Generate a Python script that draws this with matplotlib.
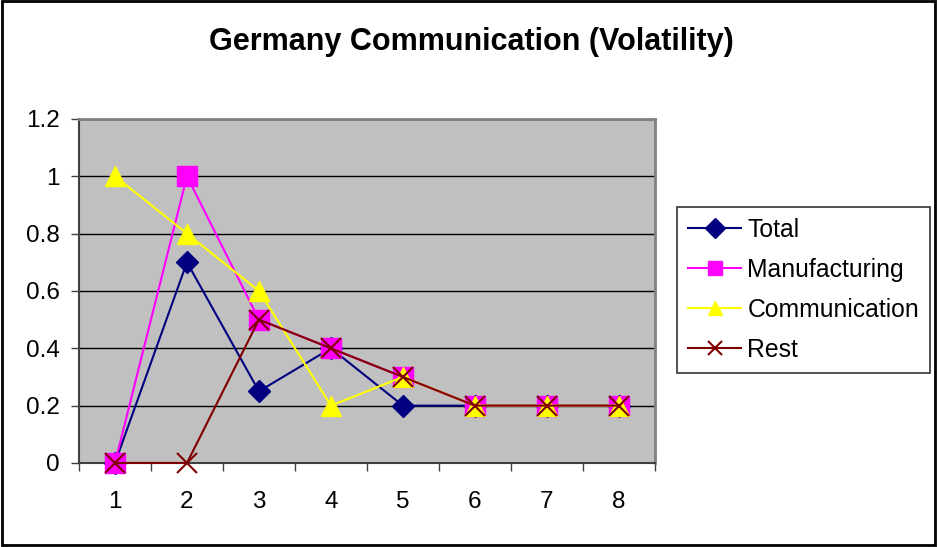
import matplotlib
matplotlib.use("Agg")
import matplotlib.pyplot as plt
from matplotlib.patches import Rectangle

plt.rcParams["font.family"] = ["Liberation Sans", "DejaVu Sans"]

# Donnees
periods = [1, 2, 3, 4, 5, 6, 7, 8]
total = [0, 0.7, 0.25, 0.4, 0.2, 0.2, 0.2, 0.2]
manufacturing = [0, 1.0, 0.5, 0.4, 0.3, 0.2, 0.2, 0.2]
communication = [1.0, 0.8, 0.6, 0.2, 0.3, 0.2, 0.2, 0.2]
rest = [0, 0, 0.5, 0.4, 0.3, 0.2, 0.2, 0.2]
y_ticks = [0, 0.2, 0.4, 0.6, 0.8, 1, 1.2]

fig = plt.figure(figsize=(9.38, 5.47), dpi=100)
ax = fig.add_axes([0.0842, 0.1536, 0.614, 0.629])
ax.set_facecolor("#C0C0C0")

ax.plot(periods, total, color="#000080", lw=1.5, marker="D", ms=11.5,
        mfc="#000080", mec="#000080", label="Total", clip_on=False, zorder=3)
ax.plot(periods, manufacturing, color="#FF00FF", lw=1.5, marker="s", ms=14,
        mfc="#FF00FF", mec="#FF00FF", label="Manufacturing", clip_on=False, zorder=3)
ax.plot(periods, communication, color="#FFFF00", lw=1.5, marker="^", ms=15,
        mfc="#FFFF00", mec="#FFFF00", label="Communication", clip_on=False, zorder=3)
ax.plot(periods, rest, color="#800000", lw=1.5, marker="x", ms=14,
        mew=1.5, label="Rest", clip_on=False, zorder=3)

ax.set_xlim(0.5, 8.5)
ax.set_ylim(0, 1.2)
ax.set_yticks(y_ticks)
ax.set_yticklabels([f"{v:g}" for v in y_ticks])
ax.set_xticks(periods)
ax.set_xticks([p + 0.5 for p in [0] + periods], minor=True)
ax.tick_params(axis="x", which="major", length=0, pad=20, labelsize=17.5)
ax.tick_params(axis="x", which="minor", length=6, width=1, color="#404040")
ax.tick_params(axis="y", length=6, width=1, color="#404040", pad=8, labelsize=17.5)

ax.yaxis.grid(True, color="black", lw=1)
ax.set_axisbelow(True)
for side in ["top", "right"]:
    ax.spines[side].set_color("#808080")
    ax.spines[side].set_linewidth(2)
for side in ["left", "bottom"]:
    ax.spines[side].set_color("#404040")
    ax.spines[side].set_linewidth(1.5)

fig.text(0.502, 0.923, "Germany Communication (Volatility)", ha="center",
         va="center", fontsize=22, fontweight="bold")

leg = fig.legend(loc="upper left", bbox_to_anchor=(0.7217, 0.6216),
                 fontsize=17.8, frameon=True, fancybox=False, borderaxespad=0,
                 handlelength=2.15, handletextpad=0.25, labelspacing=0.64,
                 borderpad=0.45)
leg.get_frame().set_edgecolor("black")
leg.get_frame().set_linewidth(1.2)
for h in leg.legend_handles:
    h.set_markersize(10.5)

fig.patches.append(Rectangle((0.002, 0.003), 0.995, 0.995, transform=fig.transFigure,
                             fill=False, edgecolor="black", lw=2))

fig.savefig("out.png", dpi=100)
